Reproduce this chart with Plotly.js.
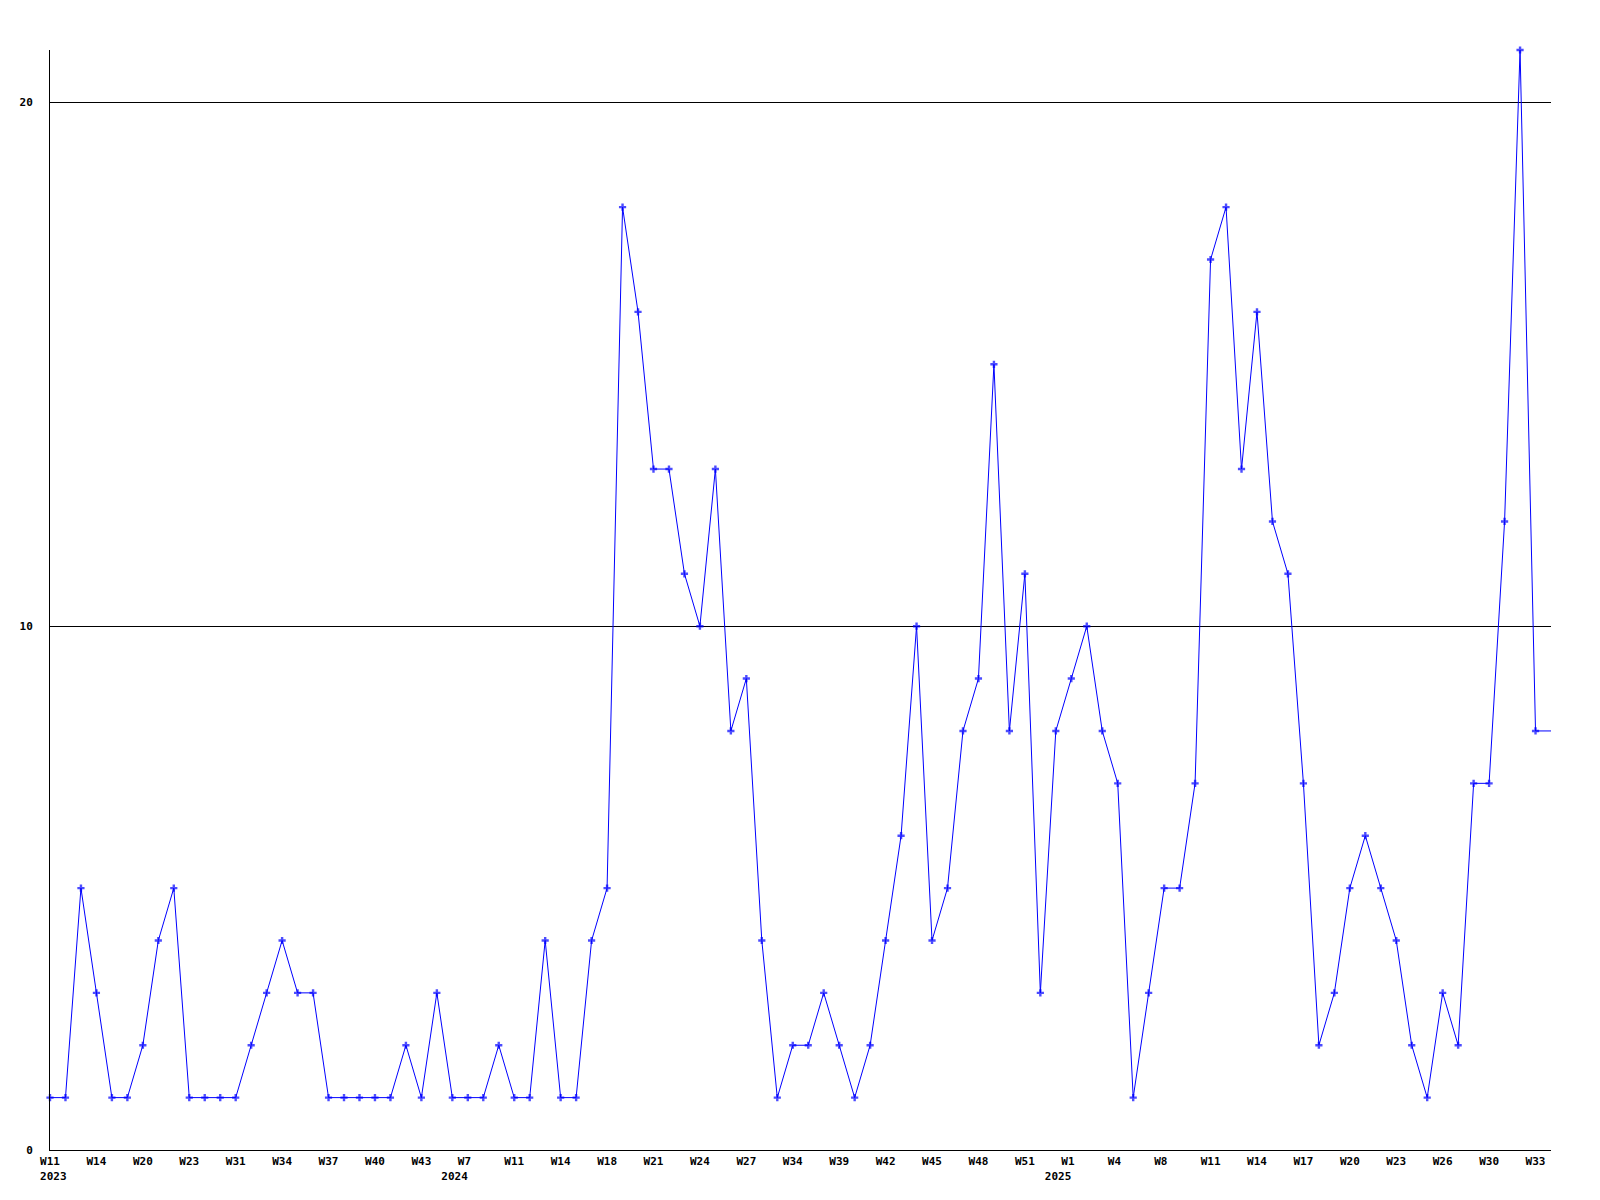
<!DOCTYPE html>
<html>
<head>
<meta charset="utf-8">
<script src="https://cdn.plot.ly/plotly-3.0.1.min.js"></script>
<style>html,body{margin:0;padding:0;background:#fff;}#chart{width:1600px;height:1200px;}</style>
</head>
<body>
<div id="chart"></div>
<script>
// Weekly counts (one value per plotted week, in order)
const values = [
  1, 1, 5, 3, 1, 1, 2, 4, 5, 1,
  1, 1, 1, 2, 3, 4, 3, 3, 1, 1,
  1, 1, 1, 2, 1, 3, 1, 1, 1, 2,
  1, 1, 4, 1, 1, 4, 5, 18, 16, 13,
  13, 11, 10, 13, 8, 9, 4, 1, 2, 2,
  3, 2, 1, 2, 4, 6, 10, 4, 5, 8,
  9, 15, 8, 11, 3, 8, 9, 10, 8, 7,
  1, 3, 5, 5, 7, 17, 18, 13, 16, 12,
  11, 7, 2, 3, 5, 6, 5, 4, 2, 1,
  3, 2, 7, 7, 12, 21, 8, 8
];
// Tick labels shown every third week
const weekLabels = ["W11","W14","W20","W23","W31","W34","W37","W40","W43","W7","W11",
  "W14","W18","W21","W24","W27","W34","W39","W42","W45","W48","W51",
  "W1","W4","W8","W11","W14","W17","W20","W23","W26","W30","W33"];
const yearLabels = ["2023","","","","","","","","","2024","",
  "","","","","","","","","","","",
  "2025","","","","","","","","","",""];
const yTicks = [0, 10, 20];

const NB = "\u00a0";
const x = values.map((v, i) => i);
const tickvals = weekLabels.map((w, i) => i * 3);
const ticktext = weekLabels.map((w, i) => {
  const wk = w.length < 3 ? w + NB : w;
  const yr = yearLabels[i];
  if (!yr) return wk;
  const yrPadded = i === 0 ? NB + yr : yr + NB + NB + NB + NB;
  return wk + "<br>" + yrPadded;
});
const markerSizes = values.map((v, i) => i === values.length - 1 ? 0 : 6);

const font = {family: "DejaVu Sans Mono, Liberation Mono, monospace", size: 11, color: "#000", weight: "bold"};

Plotly.newPlot("chart", [{
  x: x, y: values, type: "scatter", mode: "lines+markers",
  line: {color: "#0000ff", width: 1},
  marker: {color: "#0000ff", symbol: "cross", size: markerSizes, line: {width: 0}},
  hoverinfo: "none", cliponaxis: false
}], {
  width: 1600, height: 1200,
  margin: {l: 50, r: 49, t: 50, b: 50},
  paper_bgcolor: "#fff", plot_bgcolor: "#fff",
  showlegend: false,
  font: font,
  xaxis: {
    range: [0, 97], tickmode: "array", tickvals: tickvals, ticktext: ticktext,
    showgrid: false, zeroline: false, showline: true, linecolor: "#000", linewidth: 1,
    ticks: "", ticklabelstandoff: 1, tickfont: font, fixedrange: true
  },
  yaxis: {
    range: [0, 21], tickmode: "array", tickvals: yTicks, ticktext: yTicks.map(String),
    showgrid: true, gridcolor: "#000", gridwidth: 1, zeroline: false,
    showline: true, linecolor: "#000", linewidth: 1,
    ticks: "", ticklabelstandoff: 14, tickfont: font, fixedrange: true
  }
}, {displayModeBar: false, staticPlot: true});
</script>
</body>
</html>
